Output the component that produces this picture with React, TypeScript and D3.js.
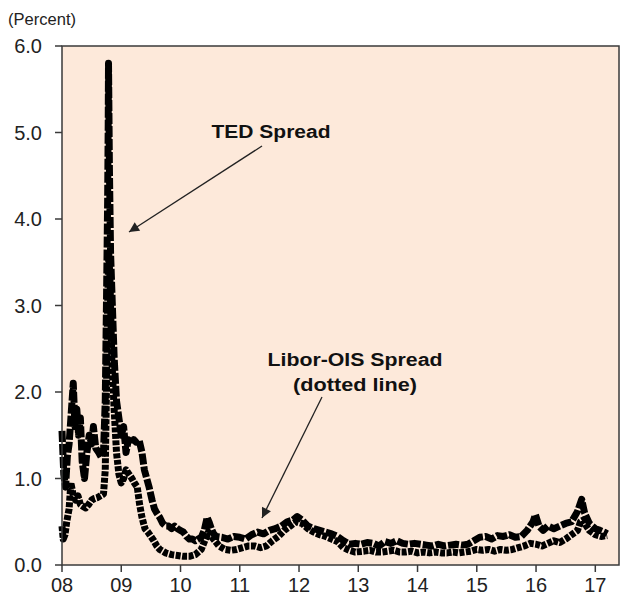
import React from 'react';
import * as d3 from 'd3';

// TED Spread (dashed line)
const tedDates = [
  2008.00, 2008.03, 2008.06, 2008.09, 2008.12, 2008.15, 2008.19, 2008.22, 2008.25, 2008.28,
  2008.31, 2008.34, 2008.38, 2008.42, 2008.46, 2008.50, 2008.53, 2008.57, 2008.62, 2008.66,
  2008.70, 2008.73, 2008.75, 2008.77, 2008.78, 2008.785, 2008.80, 2008.82, 2008.85, 2008.88,
  2008.92, 2008.96, 2009.00, 2009.04, 2009.08, 2009.12, 2009.17, 2009.21, 2009.25, 2009.30,
  2009.35, 2009.39, 2009.43, 2009.47, 2009.52, 2009.56, 2009.60, 2009.65, 2009.70, 2009.75,
  2009.80, 2009.85, 2009.90, 2009.95, 2010.00, 2010.05, 2010.10, 2010.15, 2010.20, 2010.25,
  2010.30, 2010.35, 2010.40, 2010.45, 2010.48, 2010.52, 2010.56, 2010.60, 2010.70, 2010.80,
  2010.90, 2011.00, 2011.10, 2011.20, 2011.30, 2011.40, 2011.50, 2011.60, 2011.70, 2011.80,
  2011.90, 2011.97, 2012.05, 2012.15, 2012.25, 2012.35, 2012.45, 2012.55, 2012.65, 2012.75,
  2012.85, 2012.95, 2013.05, 2013.15, 2013.25, 2013.35, 2013.45, 2013.55, 2013.65, 2013.75,
  2013.85, 2013.95, 2014.05, 2014.15, 2014.25, 2014.35, 2014.45, 2014.55, 2014.65, 2014.75,
  2014.85, 2014.95, 2015.05, 2015.15, 2015.25, 2015.35, 2015.45, 2015.55, 2015.65, 2015.75,
  2015.85, 2015.95, 2015.99, 2016.05, 2016.12, 2016.20, 2016.30, 2016.40, 2016.50, 2016.60,
  2016.70, 2016.77, 2016.82, 2016.90, 2017.00, 2017.08, 2017.15, 2017.20,
];
const tedValues = [
  1.55, 1.05, 0.90, 1.25, 1.40, 1.70, 2.10, 1.60, 1.80, 1.50,
  1.70, 1.20, 1.00, 1.30, 1.50, 1.40, 1.60, 1.35, 1.30, 1.25,
  1.30, 1.90, 3.00, 4.20, 5.10, 5.80, 4.60, 3.60, 3.00, 2.40,
  1.90, 1.70, 1.50, 1.60, 1.30, 1.45, 1.40, 1.45, 1.42, 1.45,
  1.30, 1.10, 1.00, 0.90, 0.75, 0.65, 0.60, 0.55, 0.48, 0.45,
  0.45, 0.42, 0.45, 0.42, 0.40, 0.38, 0.33, 0.30, 0.30, 0.28,
  0.30, 0.32, 0.40, 0.55, 0.50, 0.42, 0.36, 0.33, 0.32, 0.30,
  0.33, 0.32, 0.30, 0.35, 0.38, 0.36, 0.40, 0.42, 0.45, 0.50,
  0.52, 0.56, 0.52, 0.45, 0.42, 0.40, 0.38, 0.36, 0.33, 0.28,
  0.24, 0.25, 0.24, 0.26, 0.25, 0.22, 0.27, 0.25, 0.28, 0.25,
  0.24, 0.25, 0.24, 0.23, 0.22, 0.24, 0.22, 0.23, 0.24, 0.23,
  0.24, 0.28, 0.32, 0.33, 0.30, 0.34, 0.33, 0.35, 0.32, 0.33,
  0.40, 0.50, 0.58, 0.45, 0.40, 0.45, 0.42, 0.45, 0.48, 0.50,
  0.62, 0.76, 0.60, 0.48, 0.42, 0.40, 0.38, 0.36,
];

// Libor-OIS Spread (dotted line)
const oisDates = [
  2008.00, 2008.02, 2008.05, 2008.08, 2008.12, 2008.15, 2008.19, 2008.23, 2008.27, 2008.31,
  2008.35, 2008.40, 2008.45, 2008.50, 2008.55, 2008.60, 2008.65, 2008.70, 2008.73, 2008.75,
  2008.77, 2008.79, 2008.81, 2008.84, 2008.88, 2008.92, 2008.96, 2009.00, 2009.04, 2009.08,
  2009.13, 2009.18, 2009.22, 2009.27, 2009.31, 2009.35, 2009.40, 2009.45, 2009.50, 2009.55,
  2009.60, 2009.65, 2009.70, 2009.75, 2009.85, 2009.95, 2010.05, 2010.15, 2010.25, 2010.35,
  2010.42, 2010.47, 2010.52, 2010.58, 2010.65, 2010.75, 2010.85, 2010.95, 2011.05, 2011.15,
  2011.25, 2011.35, 2011.45, 2011.55, 2011.65, 2011.75, 2011.85, 2011.95, 2012.05, 2012.15,
  2012.25, 2012.35, 2012.45, 2012.55, 2012.65, 2012.75, 2012.85, 2012.95, 2013.10, 2013.20,
  2013.30, 2013.40, 2013.50, 2013.60, 2013.70, 2013.80, 2013.90, 2014.00, 2014.10, 2014.20,
  2014.30, 2014.40, 2014.50, 2014.60, 2014.70, 2014.80, 2014.90, 2015.00, 2015.10, 2015.20,
  2015.30, 2015.40, 2015.50, 2015.60, 2015.70, 2015.80, 2015.90, 2016.00, 2016.10, 2016.20,
  2016.30, 2016.40, 2016.50, 2016.60, 2016.70, 2016.75, 2016.80, 2016.85, 2016.90, 2017.00,
  2017.10, 2017.20,
];
const oisValues = [
  0.45, 0.30, 0.35, 0.50, 0.65, 0.95, 0.80, 0.75, 0.80, 0.70,
  0.68, 0.66, 0.70, 0.75, 0.77, 0.78, 0.80, 0.82, 1.10, 2.00,
  3.00, 3.60, 3.30, 2.40, 1.80, 1.30, 1.05, 0.95, 1.00, 1.10,
  1.05, 1.00, 0.95, 0.90, 0.70, 0.55, 0.42, 0.38, 0.33, 0.28,
  0.22, 0.18, 0.16, 0.14, 0.12, 0.11, 0.10, 0.10, 0.12, 0.18,
  0.30, 0.38, 0.33, 0.28, 0.22, 0.18, 0.17, 0.18, 0.20, 0.22,
  0.22, 0.20, 0.22, 0.28, 0.33, 0.40, 0.45, 0.50, 0.48, 0.42,
  0.38, 0.35, 0.33, 0.30, 0.27, 0.20, 0.17, 0.15, 0.16, 0.17,
  0.15, 0.15, 0.16, 0.17, 0.15, 0.15, 0.16, 0.14, 0.15, 0.14,
  0.15, 0.14, 0.14, 0.15, 0.14, 0.15, 0.16, 0.18, 0.17, 0.18,
  0.16, 0.18, 0.17, 0.18, 0.20, 0.22, 0.25, 0.24, 0.22, 0.25,
  0.28, 0.26, 0.30, 0.35, 0.40, 0.50, 0.52, 0.45, 0.40, 0.35,
  0.33, 0.34,
];

const yTicks = [0, 1, 2, 3, 4, 5, 6];
const yTickLabels = ['0.0', '1.0', '2.0', '3.0', '4.0', '5.0', '6.0'];
const xTicks = [2008, 2009, 2010, 2011, 2012, 2013, 2014, 2015, 2016, 2017];
const xTickLabels = ['08', '09', '10', '11', '12', '13', '14', '15', '16', '17'];

export default function App() {
  const W = 621;
  const H = 602;
  const left = 62, right = 619, top = 46, bottom = 565;
  const x = d3.scaleLinear().domain([2008, 2017.4]).range([left, right]);
  const y = d3.scaleLinear().domain([0, 6]).range([bottom, top]);

  const line = d3
    .line<[number, number]>()
    .x((d) => x(d[0]))
    .y((d) => y(d[1]));

  const ted = line(tedDates.map((d, i) => [d, tedValues[i]] as [number, number])) || '';
  const ois = line(oisDates.map((d, i) => [d, oisValues[i]] as [number, number])) || '';

  const font = "'Liberation Sans', Arial, sans-serif";
  const axisColor = '#3a3a3a';

  return (
    <svg width={W} height={H} style={{ position: 'absolute', left: 0, top: 0 }}>
      <defs>
        <marker id="ah" viewBox="0 0 10 10" refX="10" refY="5" markerWidth="14" markerHeight="10"
          markerUnits="userSpaceOnUse" orient="auto">
          <path d="M0,0 L10,5 L0,10 Z" fill="#222" />
        </marker>
      </defs>
      <rect x={0} y={0} width={W} height={H} fill="#ffffff" />
      <rect x={left} y={top} width={right - left} height={bottom - top} fill="#FDE9DA" />

      <path d={ois} fill="none" stroke="#000" strokeWidth={7} strokeDasharray="5 1.5"
        strokeLinejoin="round" />
      <path d={ted} fill="none" stroke="#000" strokeWidth={7} strokeDasharray="11 2"
        strokeLinejoin="round" />

      <rect x={left} y={top} width={right - left} height={bottom - top} fill="none"
        stroke={axisColor} strokeWidth={1.5} />

      {yTicks.map((t, i) => (
        <g key={'y' + t}>
          <line x1={left - 7} x2={left} y1={y(t)} y2={y(t)} stroke={axisColor} strokeWidth={1.5} />
          <text x={left - 20} y={y(t)} dy="0.36em" textAnchor="end" fontFamily={font} fontSize={20}
            fill="#222">{yTickLabels[i]}</text>
        </g>
      ))}
      {xTicks.map((t, i) => (
        <g key={'x' + t}>
          <line x1={x(t)} x2={x(t)} y1={bottom} y2={bottom + 7} stroke={axisColor} strokeWidth={1.5} />
          <text x={x(t)} y={bottom + 27} textAnchor="middle" fontFamily={font} fontSize={20}
            fill="#222">{xTickLabels[i]}</text>
        </g>
      ))}

      <text x={8} y={25} fontFamily={font} fontSize={16} fill="#222" textLength={68}
        lengthAdjust="spacingAndGlyphs">(Percent)</text>

      <text x={271} y={138} textAnchor="middle" fontFamily={font} fontSize={18} fontWeight="bold"
        fill="#111" textLength={119} lengthAdjust="spacingAndGlyphs">TED Spread</text>
      <line x1={262} y1={146} x2={129} y2={232} stroke="#222" strokeWidth={1.3} markerEnd="url(#ah)" />

      <text x={355} y={366} textAnchor="middle" fontFamily={font} fontSize={18} fontWeight="bold"
        fill="#111" textLength={175} lengthAdjust="spacingAndGlyphs">Libor-OIS Spread</text>
      <text x={355} y={391} textAnchor="middle" fontFamily={font} fontSize={18} fontWeight="bold"
        fill="#111" textLength={124} lengthAdjust="spacingAndGlyphs">(dotted line)</text>
      <line x1={322} y1={397} x2={262} y2={518} stroke="#222" strokeWidth={1.3} markerEnd="url(#ah)" />
    </svg>
  );
}
